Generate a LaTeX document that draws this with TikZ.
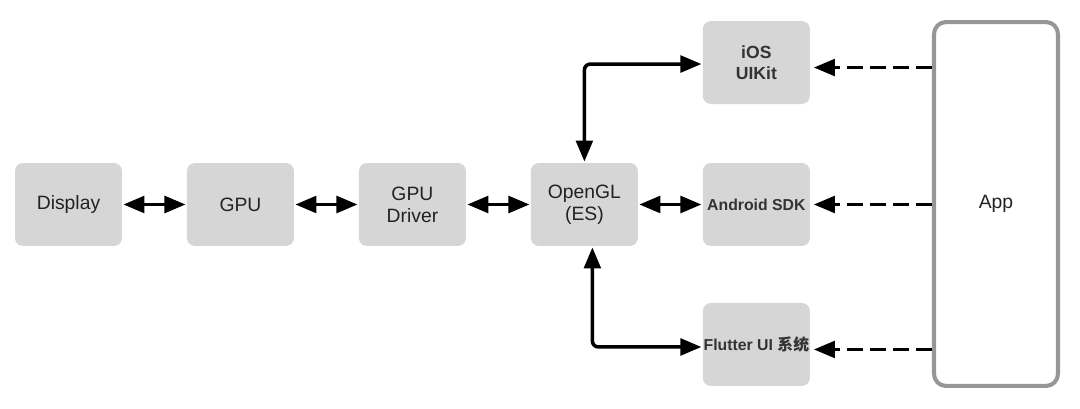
\documentclass[tikz,border=0pt]{standalone}
\usepackage{fontspec}
\setmainfont{Liberation Sans}
\newfontfamily\cjk{Noto Sans CJK SC}
\usetikzlibrary{positioning,arrows.meta}
\definecolor{boxgray}{RGB}{214,214,214}
\definecolor{appgray}{RGB}{150,150,150}
\definecolor{txt}{RGB}{34,34,34}
\definecolor{btxt}{RGB}{51,51,51}
\begin{document}
\begin{tikzpicture}[x=0.02cm,y=-0.02cm,
	box/.style = {fill=boxgray,rounded corners=0.16cm,minimum width=2.14cm,minimum height=1.66cm,inner sep=0pt,outer sep=0pt,align=center,text=txt,font=\fontsize{11}{12.5}\selectfont},
	bbox/.style = {box,text=btxt,font=\fontsize{10}{12.3}\selectfont\bfseries},
	sbox/.style = {box,text=btxt,font=\fontsize{9}{11}\selectfont\bfseries},
	link/.style = {line width=2pt,{Triangle[length=12pt,width=9.5pt]}-{Triangle[length=12pt,width=9.5pt]},shorten <=0.8pt,shorten >=0.8pt},
	call/.style = {line width=1.9pt,-{Triangle[length=12pt,width=9.5pt]},dash pattern=on 0.32cm off 0.14cm,shorten >=0.08cm}]
	\useasboundingbox (0,0) rectangle (1080,409);
	\node[box] (display) at (68.5,204.5) {Display};
	\node[box,right=1.3cm of display] (gpu) {GPU};
	\node[box,right=1.3cm of gpu] (driver) {GPU\\Driver};
	\node[box,right=1.3cm of driver] (opengl) {OpenGL\\(ES)};
	\node[sbox,right=1.3cm of opengl] (android) {Android SDK};
	\node[bbox,above=1.18cm of android] (ios) {iOS\\UIKit};
	\node[sbox,below=1.14cm of android] (flutter) {Flutter UI {\cjk 系统}};
	\node[draw=appgray,line width=2.3pt,rounded corners=0.24cm,minimum width=2.48cm,minimum height=7.28cm,text=txt,font=\fontsize{11}{12.5}\selectfont] (app) at (996,204) {App};
	% drawing stack
	\draw[link] (display) -- (gpu);
	\draw[link] (gpu) -- (driver);
	\draw[link] (driver) -- (opengl);
	\draw[link] (opengl) -- (android);
	\draw[link,rounded corners=0.12cm] (opengl.north) |- ([yshift=-0.03cm]ios.west);
	\draw[link,rounded corners=0.12cm] ([xshift=0.16cm]opengl.south) |- ([yshift=-0.05cm]flutter.west);
	% app calls
	\draw[call] (app.west |- ios.east) ++(0,-0.1cm) -- ([yshift=-0.1cm]ios.east);
	\draw[call] (app.west |- android.east) -- (android.east);
	\draw[call] (app.west |- flutter.east) ++(0,-0.1cm) -- ([yshift=-0.1cm]flutter.east);
\end{tikzpicture}
\end{document}
